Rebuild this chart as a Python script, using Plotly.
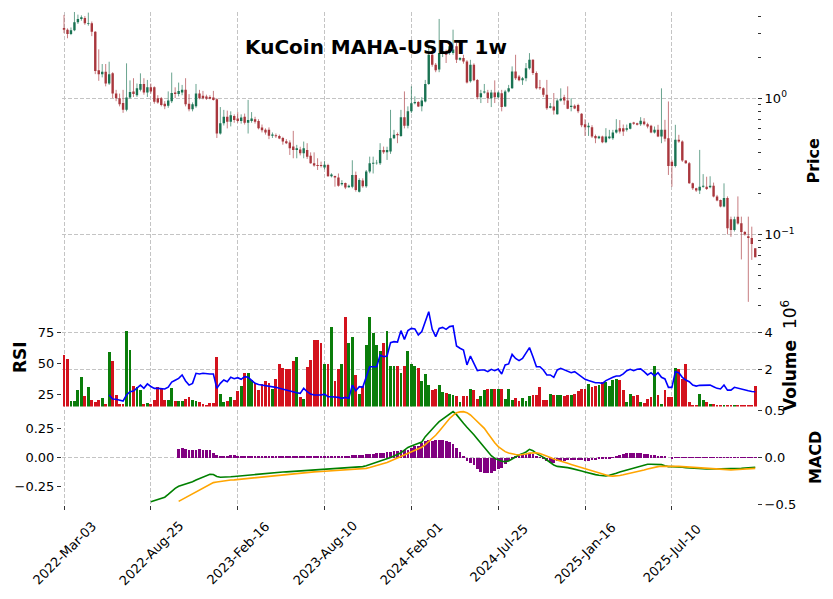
import plotly.graph_objects as go
import pandas as pd

# ---------------- data (weekly) ----------------
dates = pd.date_range("2022-03-03", periods=200, freq="7D")

opens = [3.27,3.18,2.95,3.15,3.60,3.80,3.88,3.52,3.55,3.07,
         1.60,1.50,1.56,1.28,1.52,1.08,1.00,0.92,0.82,1.01,
         1.12,1.05,1.15,1.27,1.10,1.20,1.20,1.00,1.00,0.91,
         0.88,0.95,1.10,1.07,1.10,1.15,0.91,0.83,0.87,1.08,
         1.04,1.03,1.02,1.01,0.98,0.55,0.655,0.73,0.67,0.74,
         0.71,0.68,0.73,0.66,0.68,0.70,0.68,0.61,0.585,0.585,
         0.53,0.535,0.528,0.51,0.482,0.472,0.441,0.417,0.42,0.394,
         0.417,0.377,0.333,0.323,0.323,0.31,0.323,0.267,0.268,0.262,
         0.233,0.238,0.222,0.224,0.273,0.206,0.249,0.226,0.289,0.33,
         0.333,0.333,0.417,0.40,0.405,0.508,0.545,0.528,0.725,0.626,
         0.80,0.919,0.935,0.87,0.945,1.27,2.08,1.76,1.62,2.14,
         2.16,2.14,2.14,2.40,1.91,1.97,1.86,1.33,1.76,1.36,
         1.017,1.10,1.10,1.00,1.10,1.017,1.088,0.868,1.12,1.18,
         1.57,1.44,1.35,1.40,1.66,1.91,1.53,1.20,1.18,1.06,
         0.85,0.868,0.763,0.961,1.017,0.961,0.86,0.878,0.89,0.767,
         0.644,0.612,0.612,0.528,0.508,0.523,0.474,0.508,0.508,0.559,
         0.602,0.602,0.585,0.595,0.662,0.655,0.644,0.674,0.644,0.626,
         0.559,0.585,0.523,0.585,0.508,0.342,0.318,0.494,0.48,0.348,
         0.333,0.237,0.218,0.21,0.224,0.224,0.222,0.228,0.19,0.179,
         0.160,0.185,0.129,0.1076,0.135,0.121,0.104,0.097,0.094,0.079]
highs = [4.08,3.25,3.30,4.30,4.10,4.05,4.00,4.24,3.65,3.10,
         2.28,1.78,1.78,1.85,1.55,1.15,1.08,1.15,1.80,1.35,
         1.40,1.28,1.52,1.40,1.36,1.28,1.22,1.05,1.02,0.95,
         1.12,1.54,1.20,1.30,1.25,1.40,1.07,0.93,1.27,1.15,
         1.13,1.06,1.05,1.13,1.00,0.86,0.82,0.81,0.80,0.76,
         0.79,0.76,0.77,0.97,0.79,0.73,0.70,0.64,0.60,0.61,
         0.56,0.55,0.54,0.52,0.50,0.49,0.575,0.454,0.44,0.48,
         0.467,0.40,0.40,0.362,0.342,0.347,0.33,0.281,0.27,0.28,
         0.25,0.24,0.232,0.35,0.289,0.258,0.258,0.297,0.372,0.372,
         0.352,0.467,0.441,0.44,0.82,0.585,0.56,0.82,1.12,0.87,
         1.22,1.03,0.95,1.017,1.36,2.33,2.33,1.81,3.81,2.40,
         2.27,2.54,3.18,2.54,2.00,2.08,1.90,1.91,1.80,1.38,
         1.15,1.27,1.15,1.15,1.35,1.12,1.15,1.15,1.25,1.71,
         2.08,1.48,1.43,1.81,2.14,1.93,1.57,1.36,1.20,1.36,
         0.92,1.09,0.983,1.18,1.058,1.22,1.00,0.90,0.91,0.776,
         0.70,0.66,0.633,0.54,0.53,0.53,0.602,0.585,0.585,0.701,
         0.69,0.64,0.64,0.66,0.67,0.66,0.725,0.713,0.66,0.637,
         0.619,0.637,1.18,0.693,0.945,0.352,0.637,0.538,0.49,0.35,
         0.34,0.24,0.22,0.417,0.277,0.265,0.267,0.24,0.195,0.18,
         0.237,0.19,0.135,0.135,0.19,0.135,0.106,0.135,0.114,0.079]
lows = [3.00,2.75,2.90,3.10,3.50,3.70,3.45,3.40,2.85,1.50,
        1.34,1.42,1.22,1.25,1.00,0.95,0.87,0.78,0.80,0.99,
        1.02,1.02,1.12,1.06,1.02,1.08,0.91,0.91,0.87,0.83,
        0.85,0.92,1.00,1.03,1.05,0.87,0.80,0.80,0.85,0.98,
        0.98,0.97,0.98,0.96,0.51,0.54,0.63,0.60,0.62,0.66,
        0.66,0.65,0.64,0.55,0.66,0.65,0.59,0.56,0.54,0.50,
        0.51,0.51,0.50,0.455,0.46,0.383,0.362,0.362,0.38,0.362,
        0.358,0.33,0.314,0.297,0.31,0.30,0.265,0.262,0.224,0.224,
        0.228,0.215,0.22,0.218,0.206,0.203,0.22,0.22,0.281,0.28,
        0.325,0.323,0.39,0.352,0.39,0.50,0.467,0.52,0.60,0.60,
        0.776,0.90,0.86,0.80,0.93,1.25,1.70,1.55,1.55,2.00,
        1.81,2.08,2.08,1.81,1.88,1.79,1.28,1.30,1.33,0.98,
        0.92,1.08,0.92,0.86,0.92,1.00,0.80,0.86,1.10,1.17,
        1.36,1.33,1.25,1.33,1.62,1.48,1.16,1.15,1.02,0.82,
        0.84,0.757,0.757,0.945,0.893,0.83,0.80,0.83,0.776,0.612,
        0.528,0.528,0.51,0.467,0.50,0.467,0.467,0.50,0.494,0.55,
        0.55,0.528,0.569,0.59,0.637,0.63,0.626,0.63,0.60,0.553,
        0.55,0.517,0.467,0.48,0.273,0.224,0.31,0.47,0.34,0.33,
        0.235,0.212,0.205,0.198,0.22,0.212,0.218,0.187,0.175,0.158,
        0.158,0.10,0.096,0.105,0.118,0.0655,0.098,0.032,0.065,0.068]
closes = [3.17,2.95,3.15,3.60,3.80,3.92,3.55,3.56,3.07,1.58,
          1.50,1.56,1.28,1.50,1.08,1.00,0.90,0.82,1.01,1.11,
          1.07,1.18,1.27,1.10,1.20,1.12,0.94,0.93,0.89,0.87,
          0.96,1.09,1.07,1.13,1.15,0.90,0.83,0.90,1.08,1.00,
          1.00,0.99,0.99,0.97,0.55,0.655,0.73,0.67,0.75,0.69,
          0.68,0.72,0.66,0.69,0.71,0.67,0.60,0.58,0.56,0.53,
          0.54,0.525,0.505,0.48,0.467,0.429,0.417,0.429,0.394,0.429,
          0.372,0.333,0.321,0.318,0.317,0.325,0.267,0.275,0.262,0.228,
          0.238,0.221,0.228,0.273,0.212,0.251,0.226,0.289,0.333,0.335,
          0.335,0.417,0.40,0.417,0.508,0.538,0.535,0.725,0.626,0.80,
          0.919,0.935,0.868,0.961,1.27,2.08,1.76,1.60,2.14,2.20,
          2.08,2.40,2.27,1.91,1.97,1.86,1.30,1.76,1.35,1.017,
          1.088,1.12,1.00,1.10,1.017,1.10,0.859,1.12,1.18,1.57,
          1.40,1.35,1.40,1.66,1.91,1.53,1.18,1.18,1.06,0.844,
          0.87,0.812,0.961,0.99,0.961,0.835,0.878,0.84,0.80,0.633,
          0.612,0.626,0.523,0.508,0.523,0.474,0.523,0.523,0.559,0.585,
          0.569,0.569,0.602,0.655,0.648,0.637,0.681,0.644,0.619,0.559,
          0.585,0.523,0.585,0.503,0.318,0.318,0.494,0.48,0.348,0.333,
          0.237,0.218,0.21,0.224,0.228,0.215,0.228,0.19,0.177,0.160,
          0.185,0.111,0.1076,0.129,0.12,0.104,0.10,0.094,0.085,0.068]
volume_m = [2.77,2.55,0.30,0.32,0.90,1.60,0.55,1.05,0.33,0.25,
            0.35,0.45,0.15,2.92,2.45,0.60,0.15,0.12,4.07,3.04,
            1.10,1.05,0.90,0.12,0.20,0.12,0.37,1.06,0.95,0.35,
            0.35,1.00,0.30,0.30,0.30,0.40,0.50,0.35,0.30,0.25,
            0.15,0.05,0.20,0.20,2.65,0.70,0.25,0.30,0.50,0.35,
            0.85,1.10,1.82,1.82,1.45,1.25,0.90,1.20,1.40,1.25,
            0.95,1.50,2.30,2.10,2.00,2.00,2.45,2.68,0.50,0.40,
            2.15,2.50,3.60,3.60,3.40,2.30,2.30,4.30,1.35,2.00,
            2.30,4.84,3.40,3.72,1.70,0.70,1.10,3.30,4.84,3.95,
            3.30,3.00,3.40,4.05,2.20,2.20,2.20,1.80,2.20,3.00,
            2.30,2.20,2.10,1.40,1.75,1.15,0.90,0.95,1.15,0.79,
            0.75,0.70,0.64,0.55,0.25,0.56,0.56,0.92,0.88,0.39,
            0.56,0.88,0.97,0.92,0.92,0.92,0.92,0.40,0.92,0.34,
            0.48,0.30,0.48,0.30,0.56,0.61,0.61,1.03,0.34,0.34,
            0.70,0.61,0.61,0.61,0.56,0.60,0.61,0.70,0.84,0.97,
            0.97,1.21,1.05,1.10,1.15,1.33,1.33,1.10,1.45,1.50,
            1.45,0.88,0.25,0.70,0.56,0.61,0.25,0.20,0.39,0.50,
            2.20,0.61,0.16,0.88,0.52,0.52,2.05,2.00,1.50,2.30,
            0.25,0.10,0.08,0.70,0.34,0.25,0.16,0.16,0.05,0.05,
            0.05,0.05,0.05,0.04,0.04,0.03,0.03,0.03,0.04,1.10]
rsi = [None]*13 + [
    24.7,21.5,21.3,20.7,19.9,24.7,27.3,27.8,30.0,32.6,
    30.0,33.5,31.5,30.0,30.0,30.0,29.5,31.0,35.0,36.5,
    38.0,40.7,35.9,32.6,34.0,42.0,41.5,42.0,41.5,41.5,
    41.5,30.0,34.0,36.7,35.3,38.8,37.7,38.5,37.2,39.3,
    38.8,36.7,34.0,33.0,32.6,32.0,31.8,31.3,30.8,30.0,
    29.2,28.6,27.8,27.3,26.5,26.0,30.0,27.3,25.4,24.7,
    24.7,24.7,25.4,23.3,23.3,23.3,22.8,22.0,22.8,22.0,
    32.6,28.1,31.3,30.8,39.9,47.3,47.3,47.3,56.6,55.3,
    55.8,66.5,67.3,67.0,76.1,69.1,76.1,77.9,77.5,72.6,
    75.3,83.3,91.2,77.1,71.3,77.9,78.7,77.1,79.3,79.8,
    63.8,62.0,60.6,48.7,55.8,50.0,44.1,44.7,44.7,43.3,
    45.2,44.1,45.5,41.5,48.7,49.5,57.1,53.9,52.1,53.9,
    57.9,62.5,55.3,47.3,47.3,44.7,40.7,40.7,38.8,44.7,
    46.0,44.7,43.3,42.5,43.3,41.5,39.3,37.2,36.2,35.3,
    34.5,34.5,34.0,36.2,37.2,38.8,39.9,39.9,41.5,44.1,
    45.2,44.1,45.2,45.5,43.3,40.7,42.5,39.9,42.5,38.8,
    37.5,30.8,30.8,43.3,42.5,38.8,36.7,35.3,32.6,31.8,
    32.4,32.6,32.6,32.6,31.3,30.0,29.5,32.6,28.6,28.6,
    30.8,30.0,29.2,28.6,28.1,27.5,27.3]
macd = [None]*25 + [
    -0.382,-0.373,-0.364,-0.355,-0.344,-0.320,-0.293,-0.268,-0.250,-0.240,
    -0.232,-0.226,-0.210,-0.195,-0.183,-0.170,-0.158,-0.146,-0.148,-0.165,
    -0.172,-0.172,-0.170,-0.168,-0.165,-0.162,-0.158,-0.155,-0.152,-0.148,
    -0.145,-0.142,-0.139,-0.137,-0.135,-0.133,-0.131,-0.129,-0.127,-0.125,
    -0.123,-0.121,-0.119,-0.117,-0.115,-0.113,-0.111,-0.109,-0.107,-0.105,
    -0.103,-0.101,-0.099,-0.097,-0.095,-0.093,-0.091,-0.089,-0.086,-0.084,
    -0.082,-0.080,-0.072,-0.062,-0.052,-0.043,-0.034,-0.027,-0.015,-0.002,
    0.012,0.025,0.040,0.062,0.085,0.098,0.109,0.121,0.132,0.178,
    0.213,0.241,0.276,0.307,0.330,0.356,0.379,0.394,0.368,0.328,
    0.293,0.259,0.230,0.195,0.158,0.121,0.083,0.049,0.014,-0.009,
    -0.020,-0.034,-0.037,-0.032,-0.014,0.006,0.020,0.032,0.046,0.069,
    0.057,0.034,0.020,0.000,-0.023,-0.046,-0.066,-0.078,-0.080,-0.083,
    -0.089,-0.095,-0.101,-0.109,-0.118,-0.126,-0.135,-0.144,-0.149,-0.155,
    -0.158,-0.161,-0.155,-0.149,-0.138,-0.126,-0.118,-0.109,-0.101,-0.089,
    -0.080,-0.072,-0.066,-0.060,-0.060,-0.060,-0.060,-0.063,-0.072,-0.080,
    -0.080,-0.080,-0.083,-0.086,-0.089,-0.092,-0.095,-0.098,-0.098,-0.101,
    -0.101,-0.101,-0.101,-0.098,-0.098,-0.098,-0.098,-0.095,-0.095,-0.095,
    -0.095,-0.092,-0.089,-0.089,-0.086]
signal = [None]*33 + [
    -0.380,-0.364,-0.345,-0.330,-0.314,-0.300,-0.285,-0.268,-0.250,-0.233,
    -0.218,-0.212,-0.207,-0.203,-0.199,-0.196,-0.194,-0.191,-0.188,-0.185,
    -0.182,-0.179,-0.176,-0.170,-0.165,-0.161,-0.158,-0.155,-0.152,-0.149,
    -0.146,-0.143,-0.140,-0.137,-0.134,-0.132,-0.130,-0.128,-0.127,-0.125,
    -0.124,-0.122,-0.121,-0.120,-0.118,-0.116,-0.114,-0.111,-0.109,-0.106,
    -0.104,-0.101,-0.099,-0.097,-0.095,-0.088,-0.080,-0.072,-0.064,-0.057,
    -0.045,-0.032,-0.019,-0.006,0.008,0.020,0.035,0.049,0.060,0.072,
    0.086,0.110,0.135,0.160,0.190,0.225,0.262,0.300,0.335,0.362,
    0.385,0.392,0.394,0.385,0.365,0.337,0.307,0.280,0.250,0.207,
    0.164,0.126,0.092,0.068,0.049,0.038,0.029,0.024,0.020,0.023,
    0.028,0.036,0.040,0.040,0.032,0.022,0.010,-0.002,-0.015,-0.026,
    -0.035,-0.044,-0.052,-0.061,-0.070,-0.080,-0.089,-0.098,-0.107,-0.116,
    -0.124,-0.135,-0.146,-0.156,-0.161,-0.162,-0.161,-0.157,-0.151,-0.145,
    -0.139,-0.131,-0.124,-0.117,-0.109,-0.101,-0.093,-0.085,-0.080,-0.077,
    -0.076,-0.075,-0.076,-0.077,-0.078,-0.080,-0.082,-0.084,-0.086,-0.089,
    -0.092,-0.095,-0.098,-0.101,-0.103,-0.105,-0.107,-0.109,-0.109,-0.108,
    -0.107,-0.105,-0.103,-0.101,-0.099,-0.097,-0.095]
hist = [None]*33 + [
    0.094,0.100,0.085,0.080,0.080,0.080,0.085,0.080,0.080,0.080,
    0.045,0.025,0.020,0.020,0.020,0.025,0.022,0.020,0.020,0.018,
    0.020,0.015,0.015,0.012,0.012,0.010,0.010,0.010,0.008,0.008,
    0.008,0.008,0.008,0.008,0.008,0.010,0.008,0.008,0.008,0.008,
    0.008,0.010,0.010,0.010,0.012,0.012,0.014,0.015,0.018,0.020,
    0.025,0.025,0.028,0.030,0.035,0.040,0.042,0.045,0.050,0.050,
    0.055,0.060,0.068,0.070,0.075,0.078,0.080,0.100,0.120,0.126,
    0.154,0.171,0.182,0.171,0.182,0.189,0.182,0.171,0.161,0.147,
    0.101,0.056,0.021,-0.038,-0.056,-0.084,-0.126,-0.154,-0.168,-0.168,
    -0.161,-0.143,-0.126,-0.108,-0.073,-0.038,-0.014,0.007,0.021,0.031,
    0.038,0.049,0.042,0.021,-0.003,-0.021,-0.042,-0.056,-0.056,-0.042,
    -0.035,-0.035,-0.031,-0.028,-0.028,-0.028,-0.031,-0.035,-0.035,-0.031,
    -0.028,-0.021,-0.017,-0.014,-0.007,0.003,0.014,0.028,0.038,0.045,
    0.049,0.049,0.049,0.045,0.042,0.038,0.031,0.028,0.021,0.014,
    0.007,0.000,-0.007,-0.003,0.003,-0.004,-0.005,-0.005,-0.004,-0.004,
    -0.003,-0.003,0.004,0.004,0.004,0.003,-0.003,-0.004,-0.005,-0.005,
    -0.005,-0.005,-0.005,-0.005,-0.005,-0.005,-0.005]
tick_every = 25

# ---------------- styling ----------------
UP_BODY, DN_BODY = "#1a7353", "#a9373d"
UP_WICK, DN_WICK = "rgba(26,115,83,0.65)", "rgba(169,55,61,0.65)"
VOL_UP, VOL_DN = "#0a7d0a", "#d3121d"
GRID = "#c4c4c4"
FONT = "DejaVu Sans"

n = len(closes)
xs = list(range(n))
up = [c >= o for o, c in zip(opens, closes)]


def segments(mask, a, b):
    sx, sy = [], []
    for i in xs:
        if mask[i]:
            sx += [i, i, None]
            sy += [a[i], b[i], None]
    return sx, sy


fig = go.Figure()
for m, col in ((up, UP_WICK), ([not u for u in up], DN_WICK)):
    wx, wy = segments(m, lows, highs)
    fig.add_trace(go.Scatter(x=wx, y=wy, mode="lines", line=dict(color=col, width=1),
                             yaxis="y", hoverinfo="skip", showlegend=False))
for m, col in ((up, UP_BODY), ([not u for u in up], DN_BODY)):
    bx, by = segments(m, opens, closes)
    fig.add_trace(go.Scatter(x=bx, y=by, mode="lines", line=dict(color=col, width=2.4),
                             yaxis="y", hoverinfo="skip", showlegend=False))

fig.add_trace(go.Bar(x=xs, y=volume_m, width=0.82, yaxis="y2",
                     marker=dict(color=[VOL_UP if u else VOL_DN for u in up], line=dict(width=0)),
                     showlegend=False))
fig.add_trace(go.Scatter(x=xs, y=rsi, mode="lines", line=dict(color="#0000ff", width=1.6),
                         yaxis="y4", showlegend=False))
fig.add_trace(go.Bar(x=xs, y=hist, width=0.8, yaxis="y3",
                     marker=dict(color="#800080", line=dict(width=0)), showlegend=False))
fig.add_trace(go.Scatter(x=xs, y=macd, mode="lines", line=dict(color="#008000", width=1.6),
                         yaxis="y5", showlegend=False))
fig.add_trace(go.Scatter(x=xs, y=signal, mode="lines", line=dict(color="#ffa500", width=1.6),
                         yaxis="y5", showlegend=False))

# ---------------- layout ----------------
W, H = 833, 599
L, R, T, B = 62, 76, 12, 94
ph = H - T - B
pw = W - L - R


def fy(ypx):
    return (H - B - ypx) / ph


def fx(xpx):
    return (xpx - L) / pw


tickfont = dict(family=FONT, size=13, color="#000000")
tick_idx = xs[::tick_every]
tick_txt = [d.strftime("%Y-%b-%d") for d in dates[::tick_every]]

common_y = dict(showline=False, zeroline=False, ticks="outside", ticklen=4, tickwidth=1,
                tickcolor="#333333", tickfont=tickfont, gridcolor=GRID, griddash="4px,2px",
                gridwidth=0.8, fixedrange=True, automargin=False)

minor_vals = [v * m for v in (0.01, 0.1, 1) for m in range(2, 10)]
minor_vals = [v for v in minor_vals if 0.0296 < v < 4.3]

fig.update_layout(
    template="none",
    width=W, height=H, margin=dict(l=L, r=R, t=T, b=B, pad=0, autoexpand=False),
    paper_bgcolor="white", plot_bgcolor="white", bargap=0, showlegend=False,
    font=dict(family=FONT, size=13, color="#000000"),
    xaxis=dict(domain=[0, 1], range=[-0.58, 199.5], anchor="y3", tickvals=tick_idx,
               showticklabels=False, ticks="outside", ticklen=4, tickcolor="#333333",
               showgrid=True, gridcolor=GRID, griddash="4px,2px", gridwidth=0.8,
               zeroline=False, showline=False, automargin=False),
    yaxis=dict(domain=[fy(306.5), 1], type="log", range=[-1.529, 0.632], side="right",
               anchor="x", tickvals=[0.1, 1], ticktext=["10<sup>−1</sup>", "10<sup>0</sup>"],
               showgrid=True,
               minor=dict(tickmode="array", tickvals=minor_vals, ticks="outside", ticklen=3,
                          tickcolor="#333333", showgrid=False),
               **common_y),
    yaxis2=dict(domain=[fy(406.5), fy(308)], range=[0.0, 5.31], side="right", anchor="x",
                tickvals=[2, 4], ticktext=["2", "4"], showgrid=True, **common_y),
    yaxis4=dict(overlaying="y2", range=[15.5, 94.17], side="left", anchor="x",
                tickvals=[25, 50, 75], showgrid=False, **common_y),
    yaxis3=dict(domain=[0, fy(410)], range=[-0.503, 0.503], side="right", anchor="x",
                tickvals=[-0.5, 0, 0.5], ticktext=["−0.5", "0.0", "0.5"], showgrid=True,
                **common_y),
    yaxis5=dict(overlaying="y3", range=[-0.411, 0.408], side="left", anchor="x",
                tickvals=[-0.25, 0, 0.25], ticktext=["−0.25", "0.00", "0.25"], showgrid=False,
                **common_y),
)

ann = []
for xi, t in zip(tick_idx, tick_txt):
    ann.append(dict(x=xi, y=fy(553), xref="x", yref="paper", text=t, showarrow=False,
                    textangle=-45, xanchor="center", yanchor="middle", font=tickfont))
ann.append(dict(x=fx(375.5), y=fy(47), xref="paper", yref="paper",
                text="<b>KuCoin MAHA-USDT 1w</b>", showarrow=False,
                font=dict(family=FONT, size=20, color="#000000"),
                xanchor="center", yanchor="middle"))
lab = dict(family=FONT, size=16, color="#000000")
ann.append(dict(x=fx(812.5), y=fy(160), xref="paper", yref="paper", text="<b>Price</b>",
                showarrow=False, textangle=-90, font=lab, xanchor="center", yanchor="middle"))
ann.append(dict(x=fx(20), y=fy(357), xref="paper", yref="paper", text="<b>RSI</b>",
                showarrow=False, textangle=-90, font=dict(family=FONT, size=17, color="#000000"),
                xanchor="center", yanchor="middle"))
ann.append(dict(x=fx(789), y=fy(356), xref="paper", yref="paper",
                text="<b>Volume</b>  10<sup>6</sup>",
                showarrow=False, textangle=-90, font=dict(family=FONT, size=17, color="#000000"),
                xanchor="center", yanchor="middle"))
ann.append(dict(x=fx(815), y=fy(458), xref="paper", yref="paper", text="<b>MACD</b>",
                showarrow=False, textangle=-90, font=lab, xanchor="center", yanchor="middle"))
fig.update_layout(annotations=ann)

fig.write_html("out.html")
